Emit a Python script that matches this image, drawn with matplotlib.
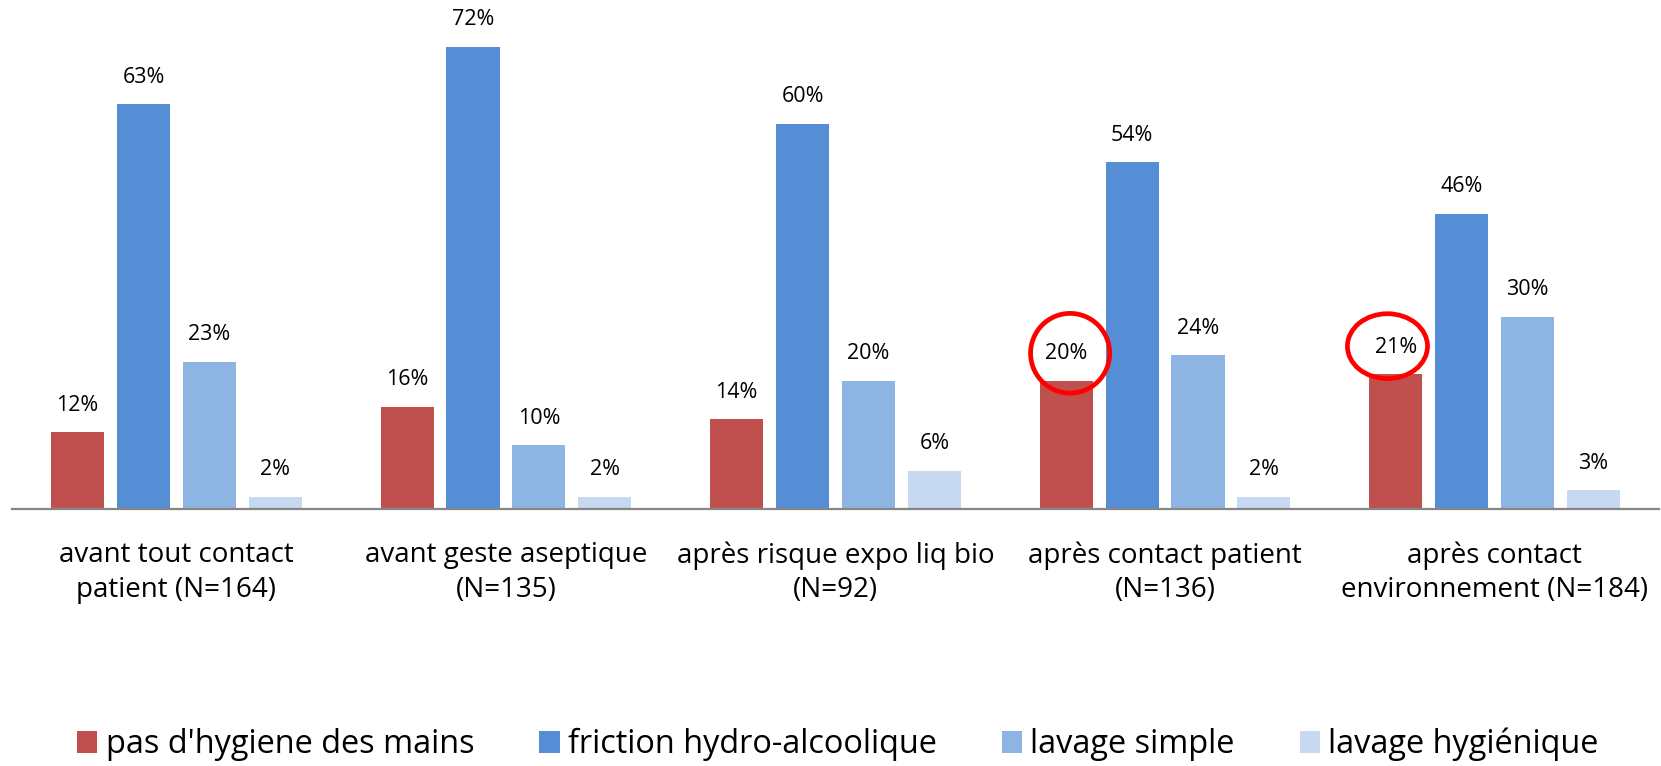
import matplotlib
matplotlib.use("Agg")
import matplotlib.pyplot as plt
import numpy as np
from matplotlib.patches import Ellipse

plt.rcParams['font.family'] = ['Open Sans', 'DejaVu Sans']

categories = ["avant tout contact\npatient (N=164)", "avant geste aseptique\n(N=135)",
              "après risque expo liq bio\n(N=92)", "après contact patient\n(N=136)",
              "après contact\nenvironnement (N=184)"]
series = ["pas d'hygiene des mains", "friction hydro-alcoolique", "lavage simple", "lavage hygiénique"]
pas_hygiene = [12, 16, 14, 20, 21]
friction = [63, 72, 60, 54, 46]
lavage_simple = [23, 10, 20, 24, 30]
lavage_hyg = [2, 2, 6, 2, 3]
colors = ["#C0504D", "#558ED5", "#8EB4E3", "#C6D9F1"]

values = [pas_hygiene, friction, lavage_simple, lavage_hyg]

fig = plt.figure(figsize=(16.61, 7.66), dpi=100)
ax = fig.add_axes([0.007, 0.3349, 0.992, 0.663])

x = np.arange(len(categories))
offsets = [-0.3, -0.1, 0.1, 0.3]
width = 0.161
for vals, off, col, name in zip(values, offsets, colors, series):
    ax.bar(x + off, vals, width, color=col, label=name, zorder=2)
    for xi, v in zip(x + off, vals):
        ax.annotate(f"{v}%", (xi, v), xytext=(0, 19.5), textcoords="offset points",
                    ha="center", va="center", fontsize=15.5)

# red circles highlighting the two values
ax.add_patch(Ellipse((2.712, 24.3), 0.24, 12.4, fill=False, edgecolor="#FF0000", lw=3.4, zorder=3))
ax.add_patch(Ellipse((3.675, 25.4), 0.243, 10.1, fill=False, edgecolor="#FF0000", lw=3.4, zorder=3))

ax.set_xlim(-0.5, 4.5)
ax.set_ylim(0, 79)
ax.set_yticks([])
ax.set_xticks(x)
ax.set_xticklabels(categories, fontsize=20, linespacing=1.3)
ax.tick_params(axis="x", length=0, pad=23)
for s in ["top", "right", "left"]:
    ax.spines[s].set_visible(False)
ax.spines["bottom"].set_color("#868686")
ax.spines["bottom"].set_linewidth(1.6)

fig.legend(loc="center", bbox_to_anchor=(0.5045, 0.028), ncol=4, frameon=False,
           fontsize=23.4, handlelength=0.62, handleheight=0.7, handletextpad=0.26,
           columnspacing=2.0)

fig.savefig("out.png", dpi=100)
